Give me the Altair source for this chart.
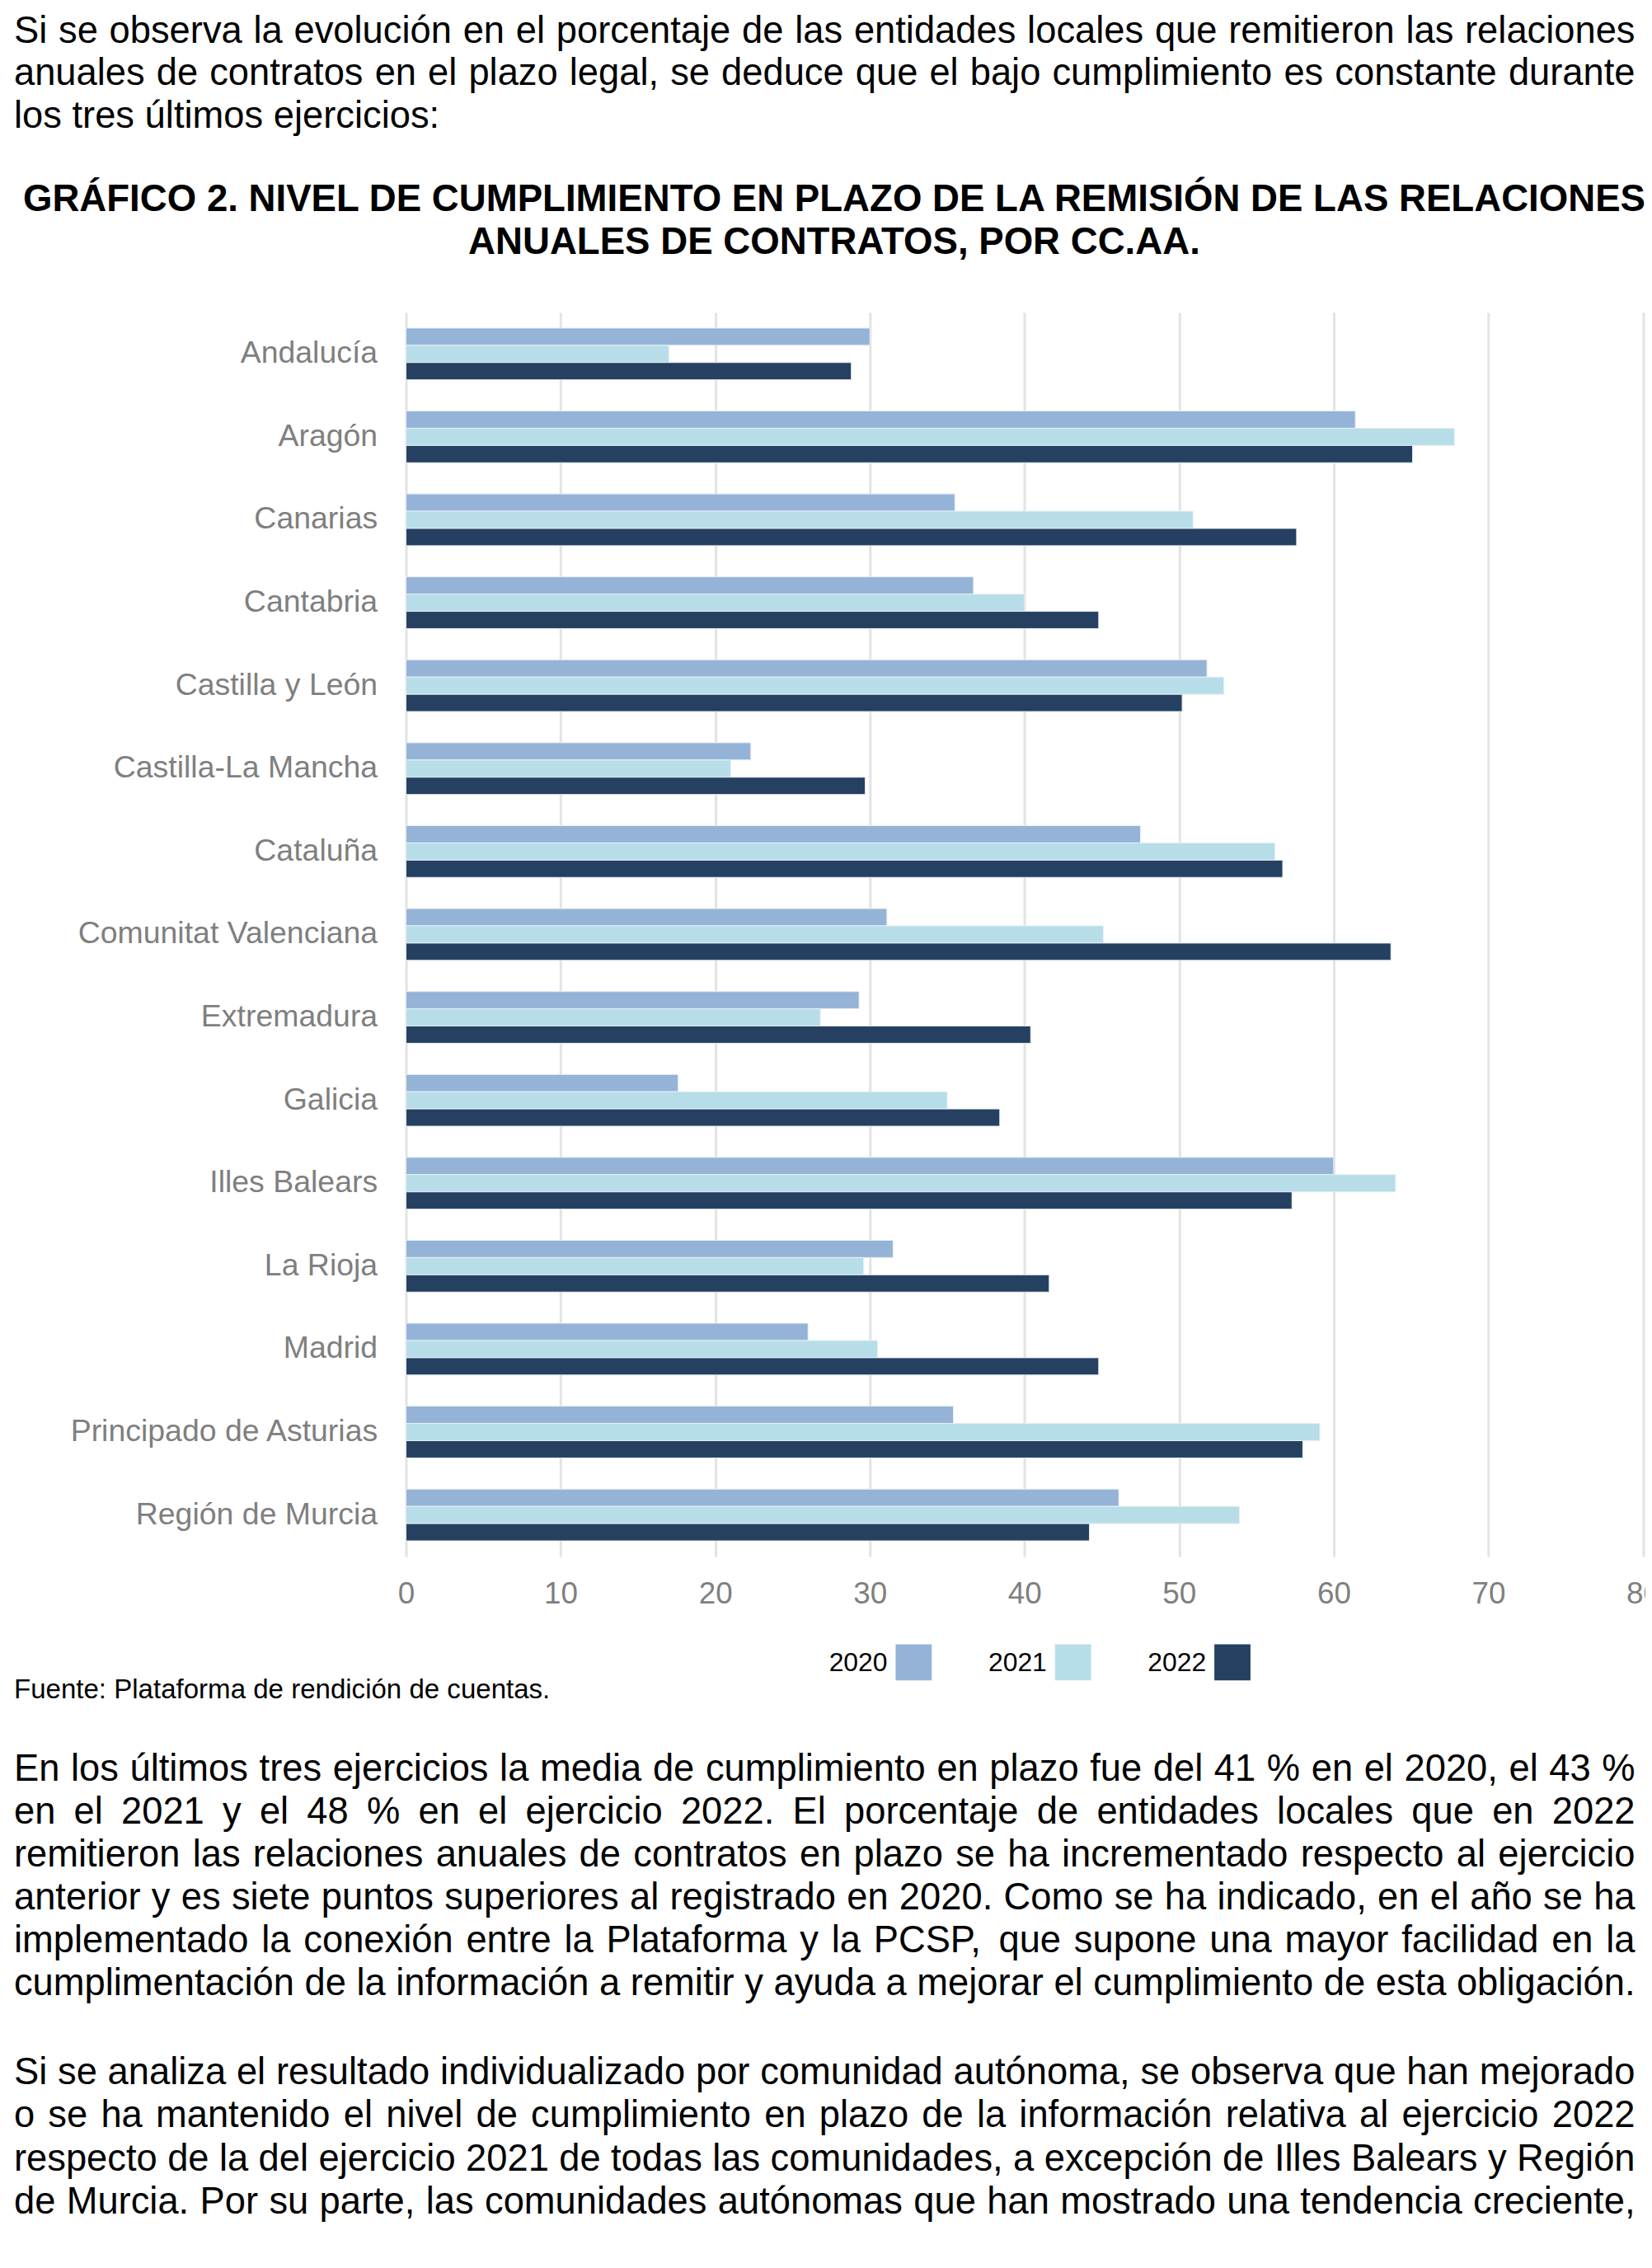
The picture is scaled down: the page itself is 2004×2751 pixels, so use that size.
import altair as alt
import pandas as pd

# ---------------- data ----------------
regions = ["Andalucía", "Aragón", "Canarias", "Cantabria", "Castilla y León",
           "Castilla-La Mancha", "Cataluña", "Comunitat Valenciana", "Extremadura",
           "Galicia", "Illes Balears", "La Rioja", "Madrid",
           "Principado de Asturias", "Región de Murcia"]
years = ["2020", "2021", "2022"]
v2020 = [30.0, 61.4, 35.5, 36.7, 51.8, 22.3, 47.5, 31.1, 29.3, 17.6, 60.0, 31.5, 26.0, 35.4, 46.1]
v2021 = [17.0, 67.8, 50.9, 40.0, 52.9, 21.0, 56.2, 45.1, 26.8, 35.0, 64.0, 29.6, 30.5, 59.1, 53.9]
v2022 = [28.8, 65.1, 57.6, 44.8, 50.2, 29.7, 56.7, 63.7, 40.4, 38.4, 57.3, 41.6, 44.8, 58.0, 44.2]
colors = ["#95B3D7", "#B7DEE8", "#254061"]
x_ticks = [0, 10, 20, 30, 40, 50, 60, 70, 80]

top_lines = [
    "Si se observa la evolución en el porcentaje de las entidades locales que remitieron las relaciones",
    "anuales de contratos en el plazo legal, se deduce que el bajo cumplimiento es constante durante",
    "los tres últimos ejercicios:",
]
title_lines = [
    "GRÁFICO 2. NIVEL DE CUMPLIMIENTO EN PLAZO DE LA REMISIÓN DE LAS RELACIONES",
    "ANUALES DE CONTRATOS, POR CC.AA.",
]
source_line = "Fuente: Plataforma de rendición de cuentas."
p1_lines = [
    "En los últimos tres ejercicios la media de cumplimiento en plazo fue del 41 % en el 2020, el 43 %",
    "en el 2021 y el 48 % en el ejercicio 2022. El porcentaje de entidades locales que en 2022",
    "remitieron las relaciones anuales de contratos en plazo se ha incrementado respecto al ejercicio",
    "anterior y es siete puntos superiores al registrado en 2020. Como se ha indicado, en el año se ha",
    "implementado la conexión entre la Plataforma y la PCSP, que supone una mayor facilidad en la",
    "cumplimentación de la información a remitir y ayuda a mejorar el cumplimiento de esta obligación.",
]
p2_lines = [
    "Si se analiza el resultado individualizado por comunidad autónoma, se observa que han mejorado",
    "o se ha mantenido el nivel de cumplimiento en plazo de la información relativa al ejercicio 2022",
    "respecto de la del ejercicio 2021 de todas las comunidades, a excepción de Illes Balears y Región",
    "de Murcia. Por su parte, las comunidades autónomas que han mostrado una tendencia creciente,",
]

rows = []
for yr, vals in zip(years, [v2020, v2021, v2022]):
    for r, v in zip(regions, vals):
        rows.append({"region": r, "year": yr, "value": v})
df = pd.DataFrame(rows)
legend_df = pd.DataFrame({"year": years})

FONT = "Liberation Sans"
GRAY = "#7F7F7F"
color_scale = alt.Scale(domain=years, range=colors)

# ---------------- text layout helpers (Arial / Liberation Sans advance widths) ----------------
CHAR_W = {" ": 278, ",": 278, ".": 278, ":": 278, "%": 889, "-": 333}
for c, w in zip("abcdefghijklmnopqrstuvwxyz",
                [556, 556, 500, 556, 556, 278, 556, 556, 222, 222, 500, 222, 833,
                 556, 556, 556, 556, 333, 500, 278, 556, 500, 722, 500, 500, 500]):
    CHAR_W[c] = w
for c, w in zip("ABCDEFGHIJKLMNOPQRSTUVWXYZ",
                [667, 667, 722, 722, 667, 611, 778, 722, 278, 500, 667, 556, 833,
                 722, 778, 667, 778, 722, 667, 611, 722, 667, 944, 667, 667, 611]):
    CHAR_W[c] = w
for c in "0123456789":
    CHAR_W[c] = 556
CHAR_W.update({"á": 556, "é": 556, "í": 278, "ó": 556, "ú": 556, "ñ": 556})


def tw(s, size):
    return sum(CHAR_W.get(c, 556) for c in s) * size / 1000.0


def layout_words(lines, x0, x1, y0, lh, size, justified):
    out = []
    for i, (line, just) in enumerate(zip(lines, justified)):
        words = line.split(" ")
        widths = [tw(w, size) for w in words]
        if just and len(words) > 1:
            gap = (x1 - x0 - sum(widths)) / (len(words) - 1)
        else:
            gap = tw(" ", size)
        x = x0
        for w, wd in zip(words, widths):
            out.append({"word": w, "wx": x, "wy": y0 + i * lh})
            x += wd + gap
    return pd.DataFrame(out)


def words_layer(dfw, size):
    return alt.Chart(dfw).mark_text(
        align="left", baseline="alphabetic", font=FONT, fontSize=size, color="black"
    ).encode(
        x=alt.X("wx:Q", scale=None, axis=None),
        y=alt.Y("wy:Q", scale=None, axis=None),
        text="word:N",
    )


def text_layer(lines, x, y, size, bold=False, align="left", lh=52):
    return alt.Chart(alt.Data(values=[{"k": 0}])).mark_text(
        text=lines, align=align, baseline="alphabetic", font=FONT, fontSize=size,
        fontWeight="bold" if bold else "normal", color="black", lineHeight=lh,
    ).encode(x=alt.value(x), y=alt.value(y))


# ---------------- chart ----------------
bars = alt.Chart(df).mark_bar(stroke="#E8EEF5", strokeWidth=1).encode(
    x=alt.X("value:Q",
            scale=alt.Scale(domain=[0, 80], nice=False, zero=True),
            axis=alt.Axis(values=x_ticks, title=None, grid=True, gridColor="#E3E3E3",
                          gridWidth=3, domain=False, ticks=False, tickSize=0,
                          labelFontSize=37, labelColor=GRAY, labelFont=FONT,
                          labelPadding=28, labelFlush=False, labelOverlap=False)),
    y=alt.Y("region:N", sort=regions,
            scale=alt.Scale(paddingInner=0.376, paddingOuter=0.188),
            axis=alt.Axis(title=None, domain=False, ticks=False, tickSize=0, grid=False,
                          labelFontSize=37.6, labelColor=GRAY, labelFont=FONT,
                          labelPadding=35, labelLimit=600)),
    yOffset=alt.YOffset("year:N", sort=years),
    color=alt.Color("year:N", sort=years, scale=color_scale, legend=None),
)

# custom legend: label to the left of each swatch
leg_x = alt.X("year:N", sort=years,
              scale=alt.Scale(type="point", domain=years, range=[618.3, 1006.5], padding=0),
              axis=None)
legend_sw = alt.Chart(legend_df).mark_square(size=1936, opacity=1, strokeWidth=0).encode(
    x=leg_x, y=alt.value(1644),
    color=alt.Color("year:N", sort=years, scale=color_scale, legend=None),
)
legend_lab = alt.Chart(legend_df).mark_text(
    align="right", baseline="middle", dx=-32, dy=1, font=FONT, fontSize=32, color="black"
).encode(x=leg_x, y=alt.value(1644), text="year:N")

# positions relative to the plot origin (page x 494.5, y 375)
BODY = 45.5
X0, X1 = -477.5, 1497.0
top_text = words_layer(layout_words(top_lines, X0, X1, -328.5, 51.8, BODY,
                                    [True, True, False]), BODY)
title_text = text_layer(title_lines, 521.5, -123.0, 45.8, bold=True, align="center", lh=52)
source_text = text_layer([source_line], X0, 1688, 33.2)
p1_text = words_layer(layout_words(p1_lines, X0, X1, 1788, 52.3, BODY,
                                   [True] * len(p1_lines)), BODY)
p2_text = words_layer(layout_words(p2_lines, X0, X1, 2158, 52.3, BODY,
                                   [True] * len(p2_lines)), BODY)

chart = alt.layer(bars, legend_sw, legend_lab, top_text, title_text, source_text,
                  p1_text, p2_text).resolve_scale(x="independent").properties(
    width=1506.5, height=1515,
    autosize=alt.AutoSizeParams(type="none"),
    padding={"left": 486.5, "top": 367, "right": 3, "bottom": 850},
    background="white",
).configure_view(strokeOpacity=0)

chart.save("out.html", embed_options={"renderer": "svg", "actions": False})
